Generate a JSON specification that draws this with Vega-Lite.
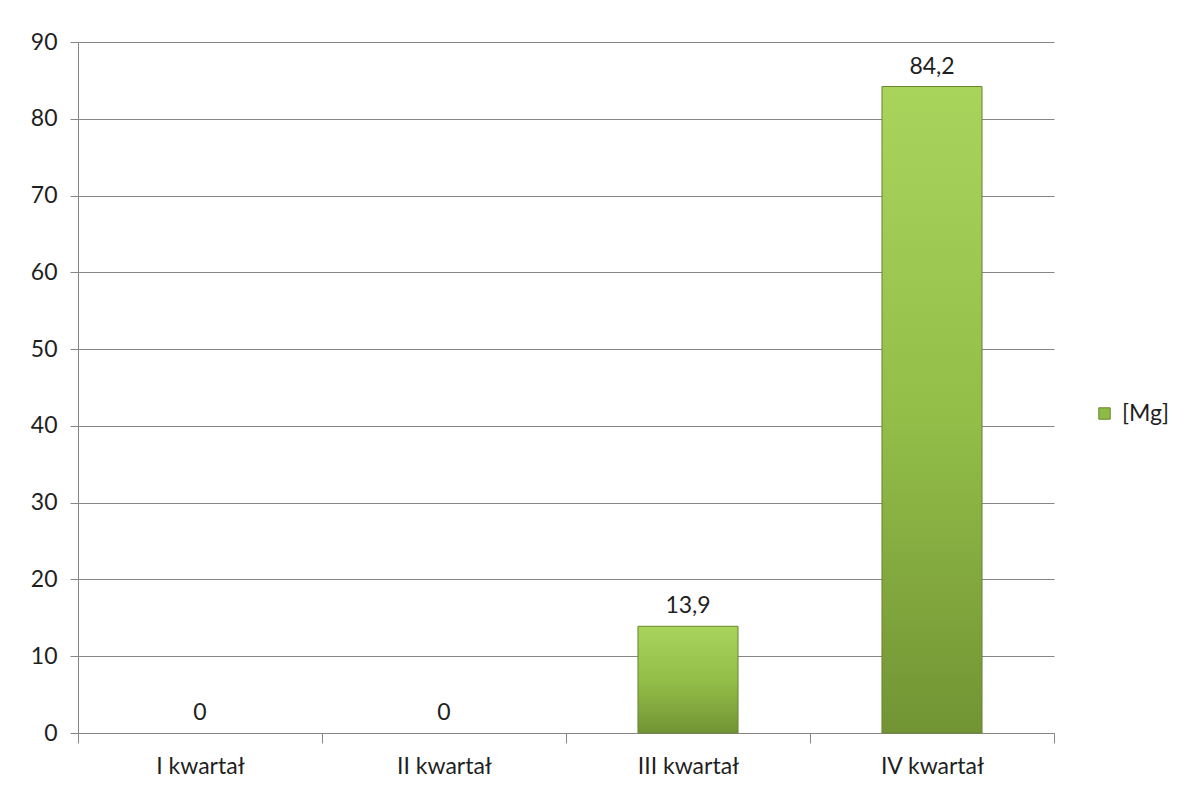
{
  "$schema": "https://vega.github.io/schema/vega-lite/v6.json",
  "autosize": {"type": "none"},
  "padding": {"left": 78, "top": 42, "right": 133, "bottom": 62},
  "width": 976,
  "height": 691,
  "background": "white",
  "config": {
    "locale": {"number": {"decimal": ",", "thousands": " ", "grouping": [3], "currency": ["", " zł"]}},
    "font": "Lato",
    "view": {"stroke": null},
    "axis": {"labelFont": "Lato", "labelColor": "#1f1f1f", "labelFontSize": 23}
  },
  "data": {
    "values": [
      {"kwartal": "I kwartał", "wartosc": 0, "seria": "[Mg]"},
      {"kwartal": "II kwartał", "wartosc": 0, "seria": "[Mg]"},
      {"kwartal": "III kwartał", "wartosc": 13.9, "seria": "[Mg]"},
      {"kwartal": "IV kwartał", "wartosc": 84.2, "seria": "[Mg]"}
    ]
  },
  "encoding": {
    "x": {
      "field": "kwartal",
      "type": "nominal",
      "sort": null,
      "scale": {"paddingInner": 0, "paddingOuter": 0},
      "axis": {
        "title": null,
        "labelAngle": 0,
        "tickBand": "extent",
        "tickSize": 10,
        "tickColor": "#868686",
        "domainColor": "#868686",
        "labelPadding": 12,
        "grid": false
      }
    },
    "y": {
      "field": "wartosc",
      "type": "quantitative",
      "scale": {"domain": [0, 90], "nice": false},
      "axis": {
        "title": null,
        "values": [0, 10, 20, 30, 40, 50, 60, 70, 80, 90],
        "tickSize": 8,
        "tickColor": "#868686",
        "domainColor": "#868686",
        "gridColor": "#868686",
        "gridOpacity": 1,
        "labelPadding": 13
      }
    }
  },
  "layer": [
    {
      "mark": {
        "type": "bar",
        "width": {"band": 0.41},
        "stroke": "#67852e",
        "strokeWidth": 1,
        "fill": {"gradient": "linear", "x1": 0, "y1": 0, "x2": 0, "y2": 1, "stops": [{"offset": 0, "color": "#a9d45c"}, {"offset": 0.5, "color": "#93bf49"}, {"offset": 1, "color": "#729434"}]}
      },
      "encoding": {
        "strokeOpacity": {"condition": {"test": "datum.wartosc > 0", "value": 1}, "value": 0}
      }
    },
    {
      "mark": {"type": "bar", "width": {"band": 0.41}, "opacity": 0},
      "encoding": {
        "fill": {
          "field": "seria",
          "type": "nominal",
          "scale": {"range": ["#8fbb45"]},
          "legend": {
            "title": null,
            "orient": "none",
            "legendX": 1015,
            "legendY": 360,
            "symbolType": "square",
            "symbolSize": 130,
            "symbolOpacity": 1,
            "symbolStrokeColor": "#67852e",
            "symbolStrokeWidth": 1,
            "labelFontSize": 23,
            "labelFont": "Lato",
            "labelColor": "#1f1f1f",
            "labelOffset": 6,
            "padding": 0
          }
        }
      }
    },
    {
      "mark": {"type": "text", "baseline": "alphabetic", "dy": -13, "fontSize": 23, "font": "Lato", "color": "#1f1f1f"},
      "encoding": {
        "text": {"field": "wartosc", "type": "quantitative", "format": ".1~f"}
      }
    }
  ]
}
